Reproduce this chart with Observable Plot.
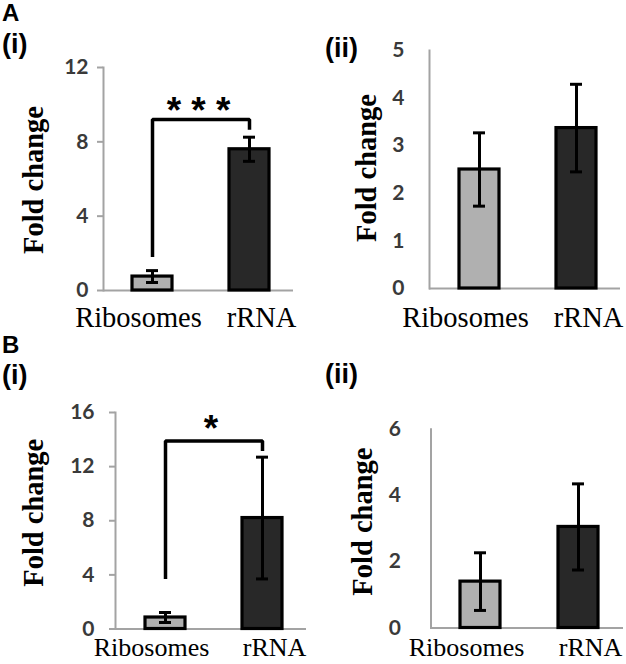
<!DOCTYPE html>
<html><head><meta charset="utf-8">
<script src="https://cdn.jsdelivr.net/npm/d3@7"></script>
<script src="https://cdn.jsdelivr.net/npm/@observablehq/plot@0.6"></script>
<style>
body{margin:0;background:#fff;}
#fig{position:relative;width:626px;height:664px;overflow:hidden;background:#fff;}
.panel{position:absolute;}
.lab{position:absolute;font-family:"Liberation Sans",Arial,sans-serif;font-weight:bold;line-height:1;color:#000;white-space:nowrap;}
</style></head><body><div id="fig"></div>
<script>
// ---- data ----
const categories = ["Ribosomes", "rRNA"];
const yLabel = "Fold change";

// Panel A (i)
const aiMean = [0.75, 7.6];
const aiErr  = [0.32, 0.65];
const aiTicks = [0, 4, 8, 12];
const aiBracketX = ["Ribosomes", "Ribosomes", "rRNA", "rRNA"];
const aiBracketY = [1.8, 9.2, 9.2, 8.65];
const aiStarY = [10.15];
const aiStar = ["* * *"];

// Panel A (ii)
const aiiMean = [2.5, 3.37];
const aiiErr  = [0.77, 0.92];
const aiiTicks = [0, 1, 2, 3, 4, 5];

// Panel B (i)
const biMean = [0.85, 8.2];
const biErr  = [0.37, 4.5];
const biTicks = [0, 4, 8, 12, 16];
const biBracketX = ["Ribosomes", "Ribosomes", "rRNA", "rRNA"];
const biBracketY = [3.7, 13.9, 13.9, 13.15];
const biStarY = [15.4];
const biStar = ["*"];

// Panel B (ii)
const biiMean = [1.4, 3.05];
const biiErr  = [0.87, 1.3];
const biiTicks = [0, 2, 4, 6];

// ---- styles ----
const barColors = ["#b0b0b0", "#282828"];
const axisGray = "#a3a3a3";
const tickText = "#3a3a3a";
const serif = "'Liberation Serif', 'Times New Roman', serif";

function panel(o) {
  const rows = categories.map((c, i) => ({cat: c, v: o.mean[i], e: o.err[i]}));
  const marks = [
    Plot.ruleY([0], {stroke: axisGray, strokeWidth: 2}),
    Plot.frame({anchor: "left", stroke: axisGray, strokeWidth: 2}),
  ];
  if (o.tickSize > 0) {
    marks.push(Plot.axisY({ticks: o.ticks, tickSize: o.tickSize, tickFormat: () => "", color: axisGray, strokeWidth: 2, label: null}));
  }
  marks.push(
    Plot.axisY({ticks: o.ticks, tickSize: 0, tickPadding: o.tickSize + o.tickPadding, tickFormat: d => String(d),
      fontSize: 21, fontWeight: "bold", fontFamily: "Lato, 'Open Sans', sans-serif", color: tickText, label: null}),
    Plot.barY(rows, {x: "cat", y: "v", fill: "cat", stroke: "black", strokeWidth: 3.2}),
    Plot.ruleX(rows, {x: "cat", y1: d => d.v - d.e, y2: d => d.v + d.e, stroke: "black", strokeWidth: 3}),
    Plot.tickY(rows, {x: "cat", y: d => d.v + d.e, insetLeft: 14, insetRight: 14, stroke: "black", strokeWidth: 3}),
    Plot.tickY(rows, {x: "cat", y: d => d.v - d.e, insetLeft: 14, insetRight: 14, stroke: "black", strokeWidth: 3}),
    Plot.text([categories[0]], {x: d => d, text: d => d, frameAnchor: "bottom", lineAnchor: "top", dy: o.xLabelDy, dx: -14,
      fontSize: o.xFont, fontFamily: serif, fill: "black"}),
    Plot.text([categories[1]], {x: d => d, text: d => d, frameAnchor: "bottom", lineAnchor: "top", dy: o.xLabelDy, dx: 12,
      fontSize: o.xFont, fontFamily: serif, fill: "black"}),
    Plot.text([yLabel], {text: d => d, frameAnchor: "left", textAnchor: "middle", lineAnchor: "middle", rotate: -90, dx: o.yLabelDx, dy: o.yLabelDy,
      fontSize: 28.5, fontWeight: "bold", fontFamily: serif, fill: "black"})
  );
  if (o.bracketX) {
    marks.push(
      Plot.line(o.bracketX.map((x, i) => ({x, y: o.bracketY[i]})), {x: "x", y: "y", stroke: "black", strokeWidth: 3.5, strokeLinejoin: "miter", strokeLinecap: "butt"}),
      Plot.text(o.star.map((t, i) => ({t, y: o.starY[i]})), {text: "t", y: "y", frameAnchor: "middle", dy: 9,
        fontSize: 37, fontWeight: "bold", fontFamily: "'Liberation Sans', Arial, sans-serif", fill: "black"})
    );
  }
  const p = Plot.plot({
    width: o.width, height: o.height,
    marginLeft: o.ml, marginRight: o.mr, marginTop: o.mt, marginBottom: o.mb,
    x: {type: "band", domain: categories, paddingInner: 0.59, paddingOuter: 0.27, align: 0.55, axis: null},
    y: {domain: [0, o.ticks[o.ticks.length - 1]]},
    color: {domain: categories, range: barColors},
    style: {background: "transparent", overflow: "visible"},
    marks
  });
  const div = document.createElement("div");
  div.className = "panel";
  div.style.left = o.left + "px";
  div.style.top = o.top + "px";
  div.appendChild(p);
  document.getElementById("fig").appendChild(div);
}

panel({left: 0, top: 0, width: 313, height: 332, ml: 103, mr: 20, mt: 67, mb: 42,
  mean: aiMean, err: aiErr, ticks: aiTicks, tickSize: 6, tickPadding: 9,
  xLabelDy: 16, xFont: 28.5, yLabelDx: -69.5, yLabelDy: 1,
  bracketX: aiBracketX, bracketY: aiBracketY, starY: aiStarY, star: aiStar});

panel({left: 313, top: 0, width: 313, height: 332, ml: 116, mr: 6, mt: 50, mb: 44,
  mean: aiiMean, err: aiiErr, ticks: aiiTicks, tickSize: 0, tickPadding: 25,
  xLabelDy: 18, xFont: 28.5, yLabelDx: -63, yLabelDy: -1.5});

panel({left: 0, top: 332, width: 313, height: 332, ml: 115, mr: 7, mt: 80, mb: 35.5,
  mean: biMean, err: biErr, ticks: biTicks, tickSize: 6, tickPadding: 15,
  xLabelDy: 9, xFont: 26, yLabelDx: -81.5, yLabelDy: -8,
  bracketX: biBracketX, bracketY: biBracketY, starY: biStarY, star: biStar});

panel({left: 313, top: 332, width: 313, height: 332, ml: 117.5, mr: 3, mt: 96.7, mb: 36.5,
  mean: biiMean, err: biiErr, ticks: biiTicks, tickSize: 0, tickPadding: 30,
  xLabelDy: 10, xFont: 26, yLabelDx: -68.5, yLabelDy: -7});

// panel labels
const panelLabels = [
  {t: "A", x: 2, y: 1, s: 24},
  {t: "(i)", x: 2, y: 31, s: 27},
  {t: "(ii)", x: 325, y: 35, s: 27},
  {t: "B", x: 2, y: 333, s: 24},
  {t: "(i)", x: 2, y: 362, s: 27},
  {t: "(ii)", x: 325, y: 361, s: 27}
];
for (const l of panelLabels) {
  const d = document.createElement("div");
  d.className = "lab";
  d.textContent = l.t;
  d.style.left = l.x + "px";
  d.style.top = l.y + "px";
  d.style.fontSize = l.s + "px";
  document.getElementById("fig").appendChild(d);
}
</script>
</body></html>
